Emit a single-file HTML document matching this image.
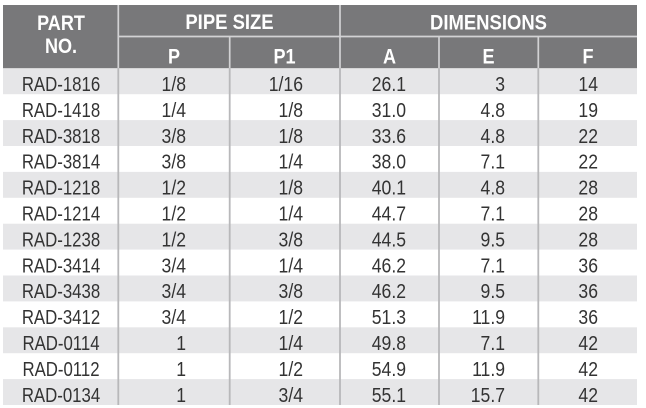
<!DOCTYPE html>
<html>
<head>
<meta charset="utf-8">
<style>
  html,body{margin:0;padding:0;background:#fff;}
  svg{display:block;}
  .h{font-family:"Liberation Sans",Arial,sans-serif;font-weight:bold;font-size:21px;fill:#fff;}
  .d{font-family:"Liberation Sans",Arial,sans-serif;font-size:20px;fill:#333;}
</style>
</head>
<body>
<svg width="646" height="408" viewBox="0 0 646 408" xmlns="http://www.w3.org/2000/svg">
  <rect x="0" y="0" width="646" height="408" fill="#fff"/>
  <!-- header -->
  <rect x="3" y="5" width="634" height="63.3" fill="#78787a"/>
  <!-- gray rows -->
  <g fill="#e6e6e8">
    <rect x="3" y="68.3" width="634" height="25.9"/>
    <rect x="3" y="120.1" width="634" height="25.9"/>
    <rect x="3" y="171.9" width="634" height="25.9"/>
    <rect x="3" y="223.7" width="634" height="25.9"/>
    <rect x="3" y="275.5" width="634" height="25.9"/>
    <rect x="3" y="327.3" width="634" height="25.9"/>
    <rect x="3" y="379.1" width="634" height="25.9"/>
  </g>
  <!-- header lines -->
  <g stroke="#d2d2d4" stroke-width="1.7">
    <line x1="118.3" y1="36.5" x2="637" y2="36.5"/>
    <line x1="118.3" y1="5" x2="118.3" y2="68.3"/>
    <line x1="340" y1="5" x2="340" y2="68.3"/>
    <line x1="229.7" y1="36.5" x2="229.7" y2="68.3"/>
    <line x1="439" y1="36.5" x2="439" y2="68.3"/>
    <line x1="538.3" y1="36.5" x2="538.3" y2="68.3"/>
  </g>
  <!-- data lines -->
  <g stroke="#b8b8ba" stroke-width="1.8">
    <line x1="118.3" y1="68.3" x2="118.3" y2="405"/>
    <line x1="229.7" y1="68.3" x2="229.7" y2="405"/>
    <line x1="340" y1="68.3" x2="340" y2="405"/>
    <line x1="439" y1="68.3" x2="439" y2="405"/>
    <line x1="538.3" y1="68.3" x2="538.3" y2="405"/>
  </g>
  <!-- header text -->
  <g class="h" text-anchor="middle">
    <text transform="translate(61,30) scale(0.86,1)">PART</text>
    <text transform="translate(61,53) scale(0.86,1)">NO.</text>
    <text transform="translate(229.5,29) scale(0.88,1)">PIPE SIZE</text>
    <text transform="translate(488.5,29.5) scale(0.88,1)">DIMENSIONS</text>
    <text transform="translate(174,63.5) scale(0.86,1)">P</text>
    <text transform="translate(284.5,63.5) scale(0.86,1)">P1</text>
    <text transform="translate(389.5,63.5) scale(0.86,1)">A</text>
    <text transform="translate(488.5,63.5) scale(0.86,1)">E</text>
    <text transform="translate(588,63.5) scale(0.86,1)">F</text>
  </g>
  <!-- data text -->
  <g class="d">
    <g text-anchor="middle">
      <text transform="translate(61,91) scale(0.84,1)">RAD-1816</text>
      <text transform="translate(61,116.9) scale(0.84,1)">RAD-1418</text>
      <text transform="translate(61,142.8) scale(0.84,1)">RAD-3818</text>
      <text transform="translate(61,168.7) scale(0.84,1)">RAD-3814</text>
      <text transform="translate(61,194.6) scale(0.84,1)">RAD-1218</text>
      <text transform="translate(61,220.5) scale(0.84,1)">RAD-1214</text>
      <text transform="translate(61,246.4) scale(0.84,1)">RAD-1238</text>
      <text transform="translate(61,272.3) scale(0.84,1)">RAD-3414</text>
      <text transform="translate(61,298.2) scale(0.84,1)">RAD-3438</text>
      <text transform="translate(61,324.1) scale(0.84,1)">RAD-3412</text>
      <text transform="translate(61,350) scale(0.84,1)">RAD-0114</text>
      <text transform="translate(61,375.9) scale(0.84,1)">RAD-0112</text>
      <text transform="translate(61,401.8) scale(0.84,1)">RAD-0134</text>
    </g>
    <g text-anchor="end">
      <!-- P -->
      <text transform="translate(186,91) scale(0.88,1)">1/8</text>
      <text transform="translate(186,116.9) scale(0.88,1)">1/4</text>
      <text transform="translate(186,142.8) scale(0.88,1)">3/8</text>
      <text transform="translate(186,168.7) scale(0.88,1)">3/8</text>
      <text transform="translate(186,194.6) scale(0.88,1)">1/2</text>
      <text transform="translate(186,220.5) scale(0.88,1)">1/2</text>
      <text transform="translate(186,246.4) scale(0.88,1)">1/2</text>
      <text transform="translate(186,272.3) scale(0.88,1)">3/4</text>
      <text transform="translate(186,298.2) scale(0.88,1)">3/4</text>
      <text transform="translate(186,324.1) scale(0.88,1)">3/4</text>
      <text transform="translate(186,350) scale(0.88,1)">1</text>
      <text transform="translate(186,375.9) scale(0.88,1)">1</text>
      <text transform="translate(186,401.8) scale(0.88,1)">1</text>
      <!-- P1 -->
      <text transform="translate(303,91) scale(0.88,1)">1/16</text>
      <text transform="translate(303,116.9) scale(0.88,1)">1/8</text>
      <text transform="translate(303,142.8) scale(0.88,1)">1/8</text>
      <text transform="translate(303,168.7) scale(0.88,1)">1/4</text>
      <text transform="translate(303,194.6) scale(0.88,1)">1/8</text>
      <text transform="translate(303,220.5) scale(0.88,1)">1/4</text>
      <text transform="translate(303,246.4) scale(0.88,1)">3/8</text>
      <text transform="translate(303,272.3) scale(0.88,1)">1/4</text>
      <text transform="translate(303,298.2) scale(0.88,1)">3/8</text>
      <text transform="translate(303,324.1) scale(0.88,1)">1/2</text>
      <text transform="translate(303,350) scale(0.88,1)">1/4</text>
      <text transform="translate(303,375.9) scale(0.88,1)">1/2</text>
      <text transform="translate(303,401.8) scale(0.88,1)">3/4</text>
      <!-- A -->
      <text transform="translate(406,91) scale(0.88,1)">26.1</text>
      <text transform="translate(406,116.9) scale(0.88,1)">31.0</text>
      <text transform="translate(406,142.8) scale(0.88,1)">33.6</text>
      <text transform="translate(406,168.7) scale(0.88,1)">38.0</text>
      <text transform="translate(406,194.6) scale(0.88,1)">40.1</text>
      <text transform="translate(406,220.5) scale(0.88,1)">44.7</text>
      <text transform="translate(406,246.4) scale(0.88,1)">44.5</text>
      <text transform="translate(406,272.3) scale(0.88,1)">46.2</text>
      <text transform="translate(406,298.2) scale(0.88,1)">46.2</text>
      <text transform="translate(406,324.1) scale(0.88,1)">51.3</text>
      <text transform="translate(406,350) scale(0.88,1)">49.8</text>
      <text transform="translate(406,375.9) scale(0.88,1)">54.9</text>
      <text transform="translate(406,401.8) scale(0.88,1)">55.1</text>
      <!-- E -->
      <text transform="translate(505,91) scale(0.88,1)">3</text>
      <text transform="translate(505,116.9) scale(0.88,1)">4.8</text>
      <text transform="translate(505,142.8) scale(0.88,1)">4.8</text>
      <text transform="translate(505,168.7) scale(0.88,1)">7.1</text>
      <text transform="translate(505,194.6) scale(0.88,1)">4.8</text>
      <text transform="translate(505,220.5) scale(0.88,1)">7.1</text>
      <text transform="translate(505,246.4) scale(0.88,1)">9.5</text>
      <text transform="translate(505,272.3) scale(0.88,1)">7.1</text>
      <text transform="translate(505,298.2) scale(0.88,1)">9.5</text>
      <text transform="translate(505,324.1) scale(0.88,1)">11.9</text>
      <text transform="translate(505,350) scale(0.88,1)">7.1</text>
      <text transform="translate(505,375.9) scale(0.88,1)">11.9</text>
      <text transform="translate(505,401.8) scale(0.88,1)">15.7</text>
      <!-- F -->
      <text transform="translate(598,91) scale(0.88,1)">14</text>
      <text transform="translate(598,116.9) scale(0.88,1)">19</text>
      <text transform="translate(598,142.8) scale(0.88,1)">22</text>
      <text transform="translate(598,168.7) scale(0.88,1)">22</text>
      <text transform="translate(598,194.6) scale(0.88,1)">28</text>
      <text transform="translate(598,220.5) scale(0.88,1)">28</text>
      <text transform="translate(598,246.4) scale(0.88,1)">28</text>
      <text transform="translate(598,272.3) scale(0.88,1)">36</text>
      <text transform="translate(598,298.2) scale(0.88,1)">36</text>
      <text transform="translate(598,324.1) scale(0.88,1)">36</text>
      <text transform="translate(598,350) scale(0.88,1)">42</text>
      <text transform="translate(598,375.9) scale(0.88,1)">42</text>
      <text transform="translate(598,401.8) scale(0.88,1)">42</text>
    </g>
  </g>
</svg>
</body>
</html>
